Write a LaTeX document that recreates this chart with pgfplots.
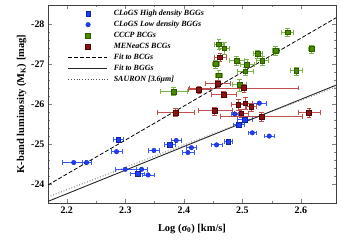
\documentclass[border=0pt]{standalone}
\usepackage{fontspec}
\setmainfont{Liberation Serif}
\usepackage{pgfplots}
\usepackage{pgfplotstable}
\pgfplotsset{compat=1.18}
\definecolor{bmark}{HTML}{1E3CFF}
\definecolor{bbar}{HTML}{3A5CFF}
\definecolor{gmark}{HTML}{4A8A00}
\definecolor{gline}{HTML}{2E5A00}
\definecolor{gbar}{HTML}{7AB648}
\definecolor{rmark}{HTML}{8B1010}
\definecolor{rline}{HTML}{4A0808}
\definecolor{rbar}{HTML}{C05050}

\pgfplotstableread{
x y ex
2.288 -25.11 0.008
2.321 -24.26 0.012
2.376 -24.99 0.009
2.476 -25.06 0.007
2.494 -25.48 0.010
2.504 -25.61 0.012
}\bluehigh
\pgfplotstableread{
x y ex
2.212 -24.54 0.020
2.234 -24.54 0.008
2.285 -24.81 0.009
2.300 -24.37 0.018
2.328 -24.37 0.009
2.339 -24.23 0.010
2.349 -24.84 0.009
2.387 -25.09 0.009
2.413 -24.91 0.009
2.407 -24.79 0.010
2.456 -24.98 0.009
2.517 -25.28 0.007
2.546 -25.20 0.008
2.487 -25.75 0.006
2.529 -26.02 0.012
}\bluelow
\pgfplotstableread{
x y ex ey
2.383 -26.31 0.023 0.10
2.460 -27.49 0.008 0.12
2.469 -27.39 0.008 0.14
2.454 -27.00 0.006 0.10
2.460 -26.72 0.006 0.12
2.490 -27.08 0.013 0.12
2.508 -26.98 0.012 0.15
2.505 -26.82 0.013 0.10
2.526 -27.25 0.008 0.10
2.534 -27.08 0.010 0.12
2.557 -27.33 0.006 0.12
2.577 -27.79 0.010 0.10
2.618 -27.37 0.005 0.10
2.592 -26.83 0.010 0.10
2.495 -26.48 0.012 0.15
}\cccp
\pgfplotstableread{
x y ex ey
2.386 -25.79 0.031 0.10
2.426 -26.36 0.019 0.08
2.458 -26.51 0.021 0.08
2.468 -26.24 0.021 0.08
2.462 -27.17 0.010 0.10
2.503 -26.40 0.093 0.10
2.453 -25.83 0.029 0.10
2.493 -25.98 0.012 0.14
2.505 -26.02 0.012 0.16
2.515 -25.93 0.008 0.10
2.498 -25.77 0.012 0.10
2.533 -25.68 0.070 0.12
2.614 -25.78 0.019 0.12
}\meneacs

\begin{document}
\begin{tikzpicture}
\begin{axis}[
  scale only axis,
  width=288bp, height=198bp,
  xmin=2.168, xmax=2.660,
  ymin=-28.47, ymax=-23.53,
  y dir=reverse,
  xtick={2.2,2.3,2.4,2.5,2.6},
  xticklabels={2.2,2.3,2.4,2.5,2.6},
  ytick={-28,-27,-26,-25,-24},
  yticklabels={-28,-27,-26,-25,-24},
  minor x tick num=1,
  minor y tick num=4,
  tick align=inside,
  axis line style={line width=0.9pt, black!75},
  major tick length=4bp, minor tick length=2bp,
  tick label style={font=\bfseries\fontsize{10}{12}\selectfont},
  label style={font=\bfseries\fontsize{10.5}{12}\selectfont},
  xlabel={Log (σ\textsubscript{0}) [km/s]},
  ylabel={K-band luminosity (M\textsubscript{K}) [mag]},
  xlabel style={yshift=-4bp},
  ylabel style={yshift=-2bp},
  legend cell align=left,
  legend style={draw=none, fill=none, at={(0.068,0.985)}, anchor=north west,
    font=\bfseries\itshape\fontsize{8}{9.8}\selectfont, inner sep=0pt,
    /tikz/every odd column/.append style={column sep=4bp}},
]
\addplot[only marks, mark=square*, mark size=2.2bp, mark options={fill=bmark, draw=bmark!60!black, line width=0.3pt},
  error bars/x dir=both, error bars/x explicit, error bars/error bar style={bbar, line width=0.8pt}]
  table[x=x, y=y, x error=ex] {\bluehigh};
\addlegendentry{CLoGS High density BGGs}
\addplot[only marks, mark=*, mark size=2.3bp, mark options={fill=bmark, draw=bmark!60!black, line width=0.3pt},
  error bars/x dir=both, error bars/x explicit, error bars/error bar style={bbar, line width=0.8pt}]
  table[x=x, y=y, x error=ex] {\bluelow};
\addlegendentry{CLoGS Low density BGGs}
\addplot[only marks, mark=square*, mark size=2.4bp, mark options={fill=gmark, draw=gline, line width=0.4pt},
  error bars/x dir=both, error bars/x explicit, error bars/y dir=both, error bars/y explicit, error bars/error bar style={gbar, line width=0.9pt}]
  table[x=x, y=y, x error=ex, y error=ey] {\cccp};
\addlegendentry{CCCP BCGs}
\addplot[only marks, mark=square*, mark size=2.4bp, mark options={fill=rmark, draw=rline, line width=0.4pt},
  error bars/x dir=both, error bars/x explicit, error bars/y dir=both, error bars/y explicit, error bars/error bar style={rbar, line width=0.9pt}]
  table[x=x, y=y, x error=ex, y error=ey] {\meneacs};
\addlegendentry{MENeaCS BCGs}
\addplot[black, line width=0.8pt, dash pattern=on 4bp off 2bp, legend image post style={xshift=-0.4cm, xscale=2.3}]
  coordinates {(2.168,-23.98) (2.660,-28.15)};
\addlegendentry{Fit to BCGs}
\addplot[black!85, line width=0.9pt, solid, legend image post style={xshift=-0.4cm, xscale=2.3}]
  coordinates {(2.168,-23.57) (2.660,-26.47)};
\addlegendentry{Fit to BGGs}
\addplot[black!70, line width=0.8pt, dotted, legend image post style={xshift=-0.4cm, xscale=2.3}]
  coordinates {(2.168,-23.68) (2.660,-26.43)};
\addlegendentry{SAURON [3.6μm]}
\end{axis}
\pgfresetboundingbox
\path[use as bounding box] ([shift={(-48bp,-40bp)}]current axis.south west) rectangle ([shift={(5bp,5bp)}]current axis.north east);
\end{tikzpicture}
\end{document}
